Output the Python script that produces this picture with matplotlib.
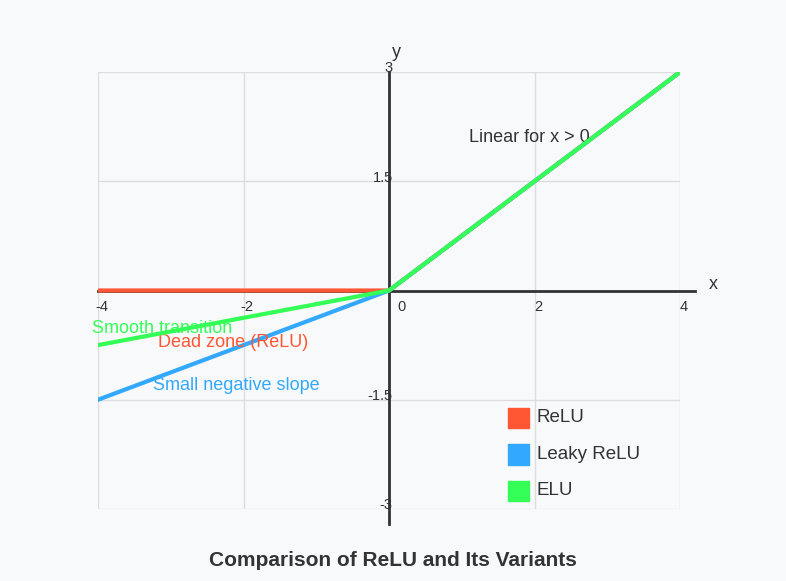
import matplotlib
matplotlib.use("Agg")
import matplotlib.pyplot as plt

plt.rcParams["font.family"] = "Liberation Sans"

x_vals = [-4, 0, 4]
relu = [0, 0, 3]
leaky_relu = [-1.5, 0, 3]
elu = [-0.75, 0, 3]
x_ticks = [-4, -2, 0, 2, 4]
y_ticks = [3, 1.5, 0, -1.5, -3]
y_labels = ["3", "1.5", "", "-1.5", "-3"]

BG = "#f8f9fa"
fig = plt.figure(figsize=(7.86, 5.81), dpi=100, facecolor=BG)
ax = fig.add_axes([0.1247, 0.124, 0.7405, 0.752], facecolor=BG)
ax.set_xlim(-4, 4)
ax.set_ylim(-3, 3)
for s in ax.spines.values():
    s.set_visible(False)
ax.set_xticks([])
ax.set_yticks([])

for xv in x_ticks:
    ax.axvline(xv, color="#dddddd", lw=1, zorder=0)
for yv in y_ticks:
    ax.axhline(yv, color="#dddddd", lw=1, zorder=0)

# main axes through origin
ax.plot([-4, 4.2], [0, 0], color="#333333", lw=2, clip_on=False, zorder=1)
ax.plot([0, 0], [-3.2, 3], color="#333333", lw=2, clip_on=False, zorder=1)
ax.text(4.4, 0.08, "x", fontsize=13, color="#333333", va="center")
ax.text(0.1, 3.2, "y", fontsize=13, color="#333333", ha="center")

for xv in x_ticks:
    ax.text(xv + (0.17 if xv == 0 else 0.05), -0.22, str(xv), fontsize=10.5,
            color="#333333", ha="center", va="center")
for yv, lab in zip(y_ticks, y_labels):
    ax.text(0.05, yv + 0.05, lab, fontsize=10.5, color="#333333", ha="right", va="center")

ax.plot(x_vals, relu, color="#ff5733", lw=3, label="ReLU", zorder=2)
ax.plot(x_vals, leaky_relu, color="#33a8ff", lw=3, label="Leaky ReLU", zorder=3)
ax.plot(x_vals, elu, color="#33ff57", lw=3, label="ELU", zorder=4)

ax.text(1.1, 2.1, "Linear for x > 0", fontsize=13, color="#333333", va="center")
ax.text(-4.08, -0.52, "Smooth transition", fontsize=13, color="#33ff57", va="center")
ax.text(-3.17, -0.71, "Dead zone (ReLU)", fontsize=13, color="#ff5733", va="center")
ax.text(-3.25, -1.31, "Small negative slope", fontsize=13, color="#33a8ff", va="center")

colors = ["#ff5733", "#33a8ff", "#33ff57"]
names = ["ReLU", "Leaky ReLU", "ELU"]
for i, (c, n) in enumerate(zip(colors, names)):
    yy = -1.75 - i * 0.5
    ax.add_patch(plt.Rectangle((1.63, yy - 0.14), 0.3, 0.28, color=c, zorder=5))
    ax.text(2.03, yy, n, fontsize=13.5, color="#333333", va="center")

fig.text(0.5, 0.036, "Comparison of ReLU and Its Variants", ha="center", va="center",
         fontsize=15, fontweight="bold", color="#333333")

fig.savefig("out.png", dpi=100, facecolor=BG)
